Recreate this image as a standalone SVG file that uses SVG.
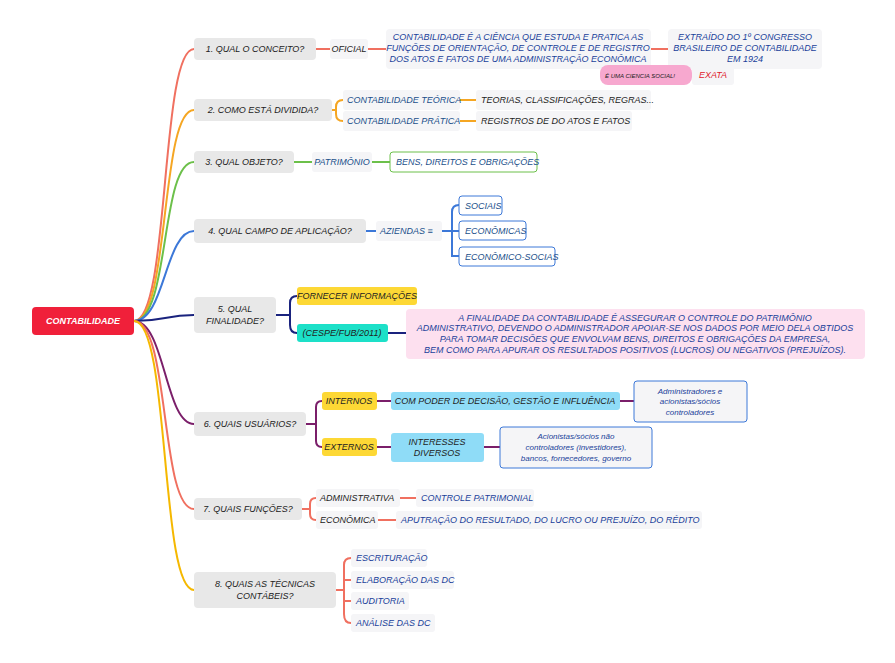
<svg xmlns="http://www.w3.org/2000/svg" width="895" height="663" viewBox="0 0 895 663">
<style>
text{font-family:"Liberation Sans",Arial,sans-serif;font-size:9px;font-style:italic;fill:#222}
.t{fill:#e8e8e8}
.l{fill:#f5f5f7}
.b{fill:#1a3f9a}
.c path{fill:none;stroke-width:2}
</style>
<rect width="895" height="663" fill="#fff"/>
<g class="c" id="connectors">
<path d="M134 321 C170 321 160 49 194 49" stroke="#f07060"/>
<path d="M134 321 C170 321 160 110 194 110" stroke="#f5a623"/>
<path d="M134 321 C170 321 160 162 194 162" stroke="#6cc04a"/>
<path d="M134 321 C165 321 165 231 194 231" stroke="#3c78d8"/>
<path d="M134 321 C165 321 165 315 194 315" stroke="#1a237e"/>
<path d="M134 321 C165 321 165 424 194 424" stroke="#7b1f6a"/>
<path d="M134 321 C170 321 160 509 194 509" stroke="#f07060"/>
<path d="M134 321 C170 321 160 590 194 590" stroke="#f5b800"/>
<g stroke-width="2" fill="none">
<path d="M316 49H330M368 49H386M651 49H668" stroke="#f07060"/>
<path d="M332 110H336M336 110V107Q336 100 343 100M336 110V114Q336 121 343 121M460 100H476M460 121H476" stroke="#f5a623"/>
<path d="M294 162H312M372 162H390" stroke="#6cc04a"/>
<path d="M366 231H376M442 231H452M452 231V212Q452 205 459 205M452 231V256Q452 256 459 256M452 231H459" stroke="#3c78d8"/>
<path d="M276 315H290M290 315V303Q290 296 297 296M290 315V325Q290 333 297 333M388 333H406" stroke="#1a237e"/>
<path d="M306 424H316M316 424V407Q316 401 322 401M316 424V441Q316 447 322 447M377 401H391M377 447H391M620 401H634M484 447H500" stroke="#7b1f6a"/>
<path d="M302 509H310M310 509V504Q310 498 316 498M310 509V514Q310 520 316 520M400 498H416M378 520H396" stroke="#f07060"/>
<path d="M336 590H344M344 590V565Q344 558 351 558M344 590V614Q344 623 351 623M344 580H351M344 601H351" stroke="#f07060"/>
</g>
</g>
<g id="root"><rect x="32" y="307" width="102" height="28" rx="4" fill="#f0203a"/><text x="83" y="324" text-anchor="middle" style="fill:#fff;font-weight:bold">CONTABILIDADE</text></g>
<g id="n1"><rect class="t" x="194" y="38" width="122" height="22" rx="4"/><text x="255" y="52" text-anchor="middle">1. QUAL O CONCEITO?</text></g>
<g id="n1a"><rect class="l" x="330" y="39" width="38" height="20" rx="3"/><text x="349" y="52" text-anchor="middle">OFICIAL</text></g>
<g id="n1b"><rect class="l" x="386" y="29" width="265" height="40" rx="4"/><text class="b" text-anchor="middle" style="fill:#1a3f9a"><tspan x="518" y="40">CONTABILIDADE É A CIÊNCIA QUE ESTUDA E PRATICA AS</tspan><tspan x="518" y="51">FUNÇÕES DE ORIENTAÇÃO, DE CONTROLE E DE REGISTRO</tspan><tspan x="518" y="62">DOS ATOS E FATOS DE UMA ADMINISTRAÇÃO ECONÔMICA</tspan></text></g>
<g id="n1c"><rect class="l" x="668" y="29" width="154" height="40" rx="4"/><text text-anchor="middle" style="fill:#1a3f9a"><tspan x="745" y="40">EXTRAÍDO DO 1º CONGRESSO</tspan><tspan x="745" y="51">BRASILEIRO DE CONTABILIDADE</tspan><tspan x="745" y="62">EM 1924</tspan></text></g>
<g id="n1d"><rect x="600" y="65" width="92" height="20" rx="8" fill="#f7a8cf"/><text x="640" y="78" text-anchor="middle" style="font-size:6px">É UMA CIENCIA SOCIAL!</text></g>
<g id="n1e"><rect class="l" x="692" y="65" width="42" height="20" rx="3"/><text x="713" y="78" text-anchor="middle" style="fill:#e0202a">EXATA</text></g>
<g id="n2"><rect class="t" x="194" y="99" width="138" height="22" rx="4"/><text x="263" y="113" text-anchor="middle">2. COMO ESTÁ DIVIDIDA?</text></g>
<g id="n2a"><rect class="l" x="343" y="90" width="117" height="20" rx="3"/><text x="347" y="103" style="fill:#1a4f8a">CONTABILIDADE TEÓRICA</text></g>
<g id="n2b"><rect class="l" x="476" y="90" width="175" height="20" rx="3"/><text x="481" y="103">TEORIAS, CLASSIFICAÇÕES, REGRAS...</text></g>
<g id="n2c"><rect class="l" x="343" y="111" width="117" height="20" rx="3"/><text x="347" y="124" style="fill:#1a4f8a">CONTABILIDADE PRÁTICA</text></g>
<g id="n2d"><rect class="l" x="476" y="111" width="156" height="20" rx="3"/><text x="481" y="124">REGISTROS DE DO ATOS E FATOS</text></g>
<g id="n3"><rect class="t" x="194" y="151" width="100" height="22" rx="4"/><text x="244" y="165" text-anchor="middle">3. QUAL OBJETO?</text></g>
<g id="n3a"><rect class="l" x="312" y="152" width="60" height="20" rx="3"/><text x="342" y="165" text-anchor="middle" style="fill:#1a4f8a">PATRIMÔNIO</text></g>
<g id="n3b"><rect x="390" y="152" width="147" height="20" rx="3" fill="#fff" stroke="#6cc04a"/><text x="396" y="165" style="fill:#1a4f8a">BENS, DIREITOS E OBRIGAÇÕES</text></g>
<g id="n4"><rect class="t" x="194" y="219" width="172" height="24" rx="4"/><text x="280" y="234" text-anchor="middle">4. QUAL CAMPO DE APLICAÇÃO?</text></g>
<g id="n4a"><rect class="l" x="376" y="221" width="66" height="20" rx="3"/><text x="380" y="234" style="fill:#1a4f8a">AZIENDAS ≡</text></g>
<g id="n4b"><rect x="459" y="196" width="43" height="19" rx="3" fill="#fff" stroke="#3c78d8"/><text x="465" y="209" style="fill:#1a4f8a">SOCIAIS</text></g>
<g id="n4c"><rect x="459" y="221" width="67" height="19" rx="3" fill="#fff" stroke="#3c78d8"/><text x="465" y="234" style="fill:#1a4f8a">ECONÔMICAS</text></g>
<g id="n4d"><rect x="459" y="247" width="96" height="19" rx="3" fill="#fff" stroke="#3c78d8"/><text x="465" y="260" style="fill:#1a4f8a">ECONÔMICO-SOCIAS</text></g>
<g id="n5"><rect class="t" x="194" y="297" width="82" height="36" rx="4"/><text text-anchor="middle"><tspan x="235" y="312">5. QUAL</tspan><tspan x="235" y="324">FINALIDADE?</tspan></text></g>
<g id="n5a"><rect x="297" y="287" width="120" height="18" rx="3" fill="#fdd835"/><text x="357" y="299" text-anchor="middle">FORNECER INFORMAÇÕES</text></g>
<g id="n5b"><rect x="297" y="324" width="91" height="18" rx="3" fill="#1de0c8"/><text x="342" y="336" text-anchor="middle">(CESPE/FUB/2011)</text></g>
<g id="n5c"><rect x="406" y="309" width="459" height="50" rx="4" fill="#fde0ef"/><text text-anchor="middle" style="fill:#1a3f9a"><tspan x="635" y="321">A FINALIDADE DA CONTABILIDADE É ASSEGURAR O CONTROLE DO PATRIMÔNIO</tspan><tspan x="635" y="331">ADMINISTRATIVO, DEVENDO O ADMINISTRADOR APOIAR-SE NOS DADOS POR MEIO DELA OBTIDOS</tspan><tspan x="635" y="342">PARA TOMAR DECISÕES QUE ENVOLVAM BENS, DIREITOS E OBRIGAÇÕES DA EMPRESA,</tspan><tspan x="635" y="353">BEM COMO PARA APURAR OS RESULTADOS POSITIVOS (LUCROS) OU NEGATIVOS (PREJUÍZOS).</tspan></text></g>
<g id="n6"><rect class="t" x="194" y="412" width="112" height="24" rx="4"/><text x="250" y="427" text-anchor="middle">6. QUAIS USUÁRIOS?</text></g>
<g id="n6a"><rect x="322" y="392" width="55" height="18" rx="3" fill="#fdd835"/><text x="349" y="404" text-anchor="middle">INTERNOS</text></g>
<g id="n6b"><rect x="391" y="392" width="229" height="18" rx="3" fill="#8fdcf7"/><text x="505" y="404" text-anchor="middle">COM PODER DE DECISÃO, GESTÃO E INFLUÊNCIA</text></g>
<g id="n6c"><rect x="634" y="381" width="113" height="41" rx="3" fill="#f5f5f7" stroke="#3c78d8"/><text text-anchor="middle" style="fill:#1a3f9a;font-size:8px"><tspan x="690" y="394">Administradores e</tspan><tspan x="690" y="404">acionistas/sócios</tspan><tspan x="690" y="415">controladores</tspan></text></g>
<g id="n6d"><rect x="322" y="438" width="55" height="18" rx="3" fill="#fdd835"/><text x="349" y="450" text-anchor="middle">EXTERNOS</text></g>
<g id="n6e"><rect x="391" y="433" width="93" height="29" rx="3" fill="#8fdcf7"/><text text-anchor="middle"><tspan x="437" y="445">INTERESSES</tspan><tspan x="437" y="456">DIVERSOS</tspan></text></g>
<g id="n6f"><rect x="500" y="427" width="152" height="41" rx="3" fill="#f5f5f7" stroke="#3c78d8"/><text text-anchor="middle" style="fill:#1a3f9a;font-size:8px"><tspan x="576" y="439">Acionistas/sócios não</tspan><tspan x="576" y="450">controladores (investidores),</tspan><tspan x="576" y="461">bancos, fornecedores, governo</tspan></text></g>
<g id="n7"><rect class="t" x="194" y="498" width="108" height="22" rx="4"/><text x="248" y="512" text-anchor="middle">7. QUAIS FUNÇÕES?</text></g>
<g id="n7a"><rect class="l" x="316" y="489" width="84" height="18" rx="3"/><text x="320" y="501">ADMINISTRATIVA</text></g>
<g id="n7b"><rect class="l" x="416" y="489" width="118" height="18" rx="3"/><text x="421" y="501" style="fill:#1a3f9a">CONTROLE PATRIMONIAL</text></g>
<g id="n7c"><rect class="l" x="316" y="511" width="62" height="18" rx="3"/><text x="320" y="523">ECONÔMICA</text></g>
<g id="n7d"><rect class="l" x="396" y="511" width="306" height="18" rx="3"/><text x="401" y="523" style="fill:#1a3f9a">APUTRAÇÃO DO RESULTADO, DO LUCRO OU PREJUÍZO, DO RÉDITO</text></g>
<g id="n8"><rect class="t" x="194" y="572" width="142" height="36" rx="4"/><text text-anchor="middle"><tspan x="265" y="587">8. QUAIS AS TÉCNICAS</tspan><tspan x="265" y="599">CONTÁBEIS?</tspan></text></g>
<g id="n8a"><rect class="l" x="351" y="549" width="76" height="18" rx="3"/><text x="356" y="561" style="fill:#1a3f9a">ESCRITURAÇÃO</text></g>
<g id="n8b"><rect class="l" x="351" y="571" width="103" height="18" rx="3"/><text x="356" y="583" style="fill:#1a3f9a">ELABORAÇÃO DAS DC</text></g>
<g id="n8c"><rect class="l" x="351" y="592" width="58" height="18" rx="3"/><text x="356" y="604" style="fill:#1a3f9a">AUDITORIA</text></g>
<g id="n8d"><rect class="l" x="351" y="614" width="84" height="18" rx="3"/><text x="356" y="626" style="fill:#1a3f9a">ANÁLISE DAS DC</text></g>
</svg>
